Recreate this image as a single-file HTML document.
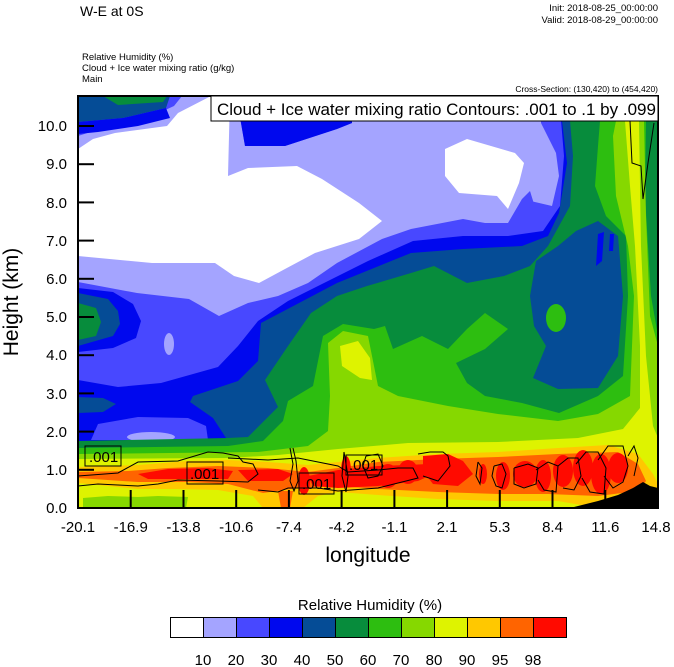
<!DOCTYPE html>
<html><head><meta charset="utf-8"><style>
html,body{margin:0;padding:0;background:#fff;}
svg{display:block;font-family:"Liberation Sans",Arial,sans-serif;}
</style></head><body>
<svg width="674" height="667" viewBox="0 0 674 667" xmlns="http://www.w3.org/2000/svg">
<rect width="674" height="667" fill="#fff"/>
<text x="80" y="16" font-size="14">W-E at 0S</text>
<text x="658" y="11" font-size="9.5" text-anchor="end">Init: 2018-08-25_00:00:00</text>
<text x="658" y="23" font-size="9.5" text-anchor="end">Valid: 2018-08-29_00:00:00</text>
<text x="82" y="60" font-size="9.5">Relative Humidity   (%)</text>
<text x="82" y="71" font-size="9.5">Cloud + Ice water mixing ratio   (g/kg)</text>
<text x="82" y="82" font-size="9.5">Main</text>
<text x="658" y="92" font-size="8.5" text-anchor="end">Cross-Section: (130,420) to (454,420)</text>
<defs><clipPath id="c"><rect x="0" y="0" width="580" height="412"/></clipPath></defs>
<g transform="translate(78,96)" clip-path="url(#c)">
<rect width="580" height="412" fill="#054c96"/>
<!-- blue 40 upper -->
<polygon fill="#0008ee" points="0,0 481,0 489,67 481,117 470,140 444,150 385,153 333,157 259,187 183,227 180,265 160,285 115,300 112,306 135,322 150,345 0,348"/>
<!-- medium blue 30 -->
<polygon fill="#4848ff" points="0,0 481,0 486,60 482,110 465,135 430,140 385,140 335,145 290,165 250,185 210,205 180,225 160,250 140,271 83,287 40,291 0,284"/>
<!-- left lobes -->
<polygon fill="#0008ee" points="0,192 35,196 55,208 63,225 58,242 35,252 0,256"/>
<polygon fill="#054c96" points="0,197 30,203 40,215 42,228 35,240 0,250"/>
<polygon fill="#078c3c" points="0,207 18,212 23,226 18,240 0,244"/>
<polygon fill="#054c96" points="0,301 25,302 38,308 25,316 0,317"/>
<polygon fill="#4848ff" points="13,344 20,328 60,321 110,322 128,330 130,344"/>
<!-- light blue 20 -->
<polygon fill="#a4a4ff" points="0,40 22,33 44,27 74,20 96,10 104,0 150,0 163,27 167,50 207,50 259,33 274,27 274,0 463,0 463,27 478,57 481,80 474,110 444,103 430,127 407,127 385,123 333,133 304,143 259,167 230,187 200,200 170,207 141,220 111,203 59,197 0,186"/>
<polygon fill="#0008ee" points="163,27 167,50 207,50 259,33 274,27 274,0 250,0 250,15 200,25 163,20"/>
<polygon fill="#4848ff" points="444,103 452,95 456,108 450,125 440,125"/>
<ellipse cx="91" cy="248" rx="5" ry="11" fill="#a4a4ff"/>
<ellipse cx="73" cy="341" rx="24" ry="5" fill="#a4a4ff"/>
<!-- top-left stripes -->
<polygon fill="#054c96" points="0,0 92,0 88,12 45,22 0,26"/>
<polygon fill="#078c3c" points="25,0 89,0 85,6 40,9"/>
<polygon fill="#0008ee" points="0,26 45,22 88,12 92,22 60,30 20,36 0,38"/>
<!-- white -->
<polygon fill="#fff" points="0,53 15,43 37,37 89,30 100,17 133,0 152,0 150,80 170,72 219,70 244,83 281,107 304,125 281,143 237,157 207,173 181,187 156,180 137,167 74,167 0,160"/>
<polygon fill="#fff" points="367,53 389,43 437,57 446,67 441,87 430,113 419,100 381,97 367,80"/>
<!-- green 60 -->
<polygon fill="#078c3c" points="0,345 150,342 170,341 200,311 187,284 210,250 233,217 259,200 289,190 333,177 356,170 389,187 426,180 452,170 470,150 492,110 495,60 492,25 520,25 580,25 580,412 0,412"/>
<!-- dark blue blob right -->
<polygon fill="#054c96" points="452,200 458,165 480,150 498,135 520,125 540,140 545,200 540,260 520,292 480,293 455,282 468,250 456,230"/>
<polygon fill="#0008ee" points="520,138 526,136 524,165 518,170"/>
<polygon fill="#0008ee" points="532,138 536,138 535,155 531,155"/>
<!-- light green 70 -->
<polygon fill="#2dbe10" points="0,352 150,350 185,345 205,325 210,305 235,290 245,240 265,228 296,233 307,230 315,253 344,240 370,253 389,233 407,217 430,233 407,253 378,267 389,287 407,300 444,307 481,317 520,300 545,280 550,200 548,140 528,120 517,90 520,50 522,25 580,25 580,412 0,412"/>
<ellipse cx="478" cy="222" rx="10" ry="14" fill="#2dbe10"/>
<polygon fill="#078c3c" points="568,25 580,25 580,240 573,200 567,100"/>
<!-- yellow-green 80 -->
<polygon fill="#86d800" points="0,358 180,356 230,350 250,335 252,300 250,247 265,235 290,240 300,290 320,300 370,310 420,318 480,325 520,318 552,300 556,200 550,150 538,100 535,40 538,25 566,25 568,120 572,220 580,250 580,412 0,412"/>
<!-- yellow 90 -->
<polygon fill="#def300" points="0,363 150,362 200,359 260,353 330,347 420,346 500,342 545,333 562,312 562,250 557,150 552,90 547,25 561,25 563,150 568,260 575,330 580,342 580,412 0,412"/>
<polygon fill="#def300" points="262,250 280,245 292,262 294,284 282,282 264,270"/>
<!-- orange 95 -->
<polygon fill="#ffc800" points="0,371 60,369 110,365 150,364 190,366 230,369 250,367 300,362 360,358 420,356 480,352 530,349 560,358 575,378 580,388 580,412 520,412 480,405 420,405 360,403 300,399 260,396 240,400 225,412 185,412 175,400 140,394 100,393 60,393 0,387"/>
<!-- red-orange 98 -->
<polygon fill="#ff6400" points="0,376 50,375 90,372 140,370 190,372 230,376 260,372 300,366 360,363 420,361 480,358 540,356 560,368 568,385 560,395 520,400 470,398 420,398 360,396 300,393 260,390 220,392 185,397 150,388 110,386 60,386 0,382"/>
<polygon fill="#ff6400" points="200,395 215,395 212,412 203,412"/>
<!-- red -->
<g fill="#ff0a00">
<polygon points="60,378 90,373 130,372 155,375 150,383 110,383 70,383"/>
<polygon points="160,374 200,373 215,378 205,385 170,385"/>
<polygon points="230,380 260,374 280,372 300,370 330,369 350,368 360,376 340,385 300,390 260,392 235,390"/>
<ellipse cx="226" cy="385" rx="6" ry="14"/>
<ellipse cx="268" cy="375" rx="5" ry="15"/>
<polygon points="345,360 370,358 385,365 395,378 380,390 355,388 345,375"/>
<ellipse cx="405" cy="378" rx="4" ry="10"/>
<ellipse cx="425" cy="380" rx="7" ry="14"/>
<ellipse cx="447" cy="378" rx="12" ry="13"/>
<ellipse cx="465" cy="380" rx="8" ry="16"/>
<ellipse cx="485" cy="375" rx="10" ry="16"/>
<ellipse cx="505" cy="372" rx="10" ry="18"/>
<ellipse cx="523" cy="378" rx="10" ry="20"/>
<ellipse cx="540" cy="372" rx="10" ry="15"/>
<ellipse cx="310" cy="380" rx="10" ry="12"/>
<ellipse cx="330" cy="376" rx="10" ry="12"/>
</g>
<polygon fill="#86d800" points="5,402 30,400 60,401 80,400 110,401 108,412 5,412"/>
<!-- terrain -->
<polygon fill="#000" points="492,412 520,405 540,399 555,392 565,386 572,390 580,392 580,412"/>
<!-- contours -->
<g fill="none" stroke="#000" stroke-width="1">
<polyline points="552,25 554,67 563,70 565,103 570,67 576,27"/>
<polyline points="0,380 40,377 60,366 100,365 130,356 145,357 160,360 165,366 175,368 180,378 170,386 140,385 100,384 80,388 60,390 20,388 0,390"/>
<polyline points="150,362 190,364 220,362 260,370 270,376 300,374 320,372 335,372 340,382 300,392 260,395 240,392 210,392 200,396 180,394"/>
<polyline points="212,352 215,368 212,385 216,395 220,385 218,365 215,352"/>
<polyline points="266,356 270,380 268,396 264,380 266,356"/>
<polyline points="288,360 300,358 305,370 300,380 290,382 285,370 288,360"/>
<polyline points="340,358 352,356 365,356 370,360 372,370 360,385 345,380"/>
<polyline points="400,366 404,372 402,388 398,380 400,366"/>
<polyline points="416,370 424,368 428,378 424,392 418,390 414,380 416,370"/>
<polyline points="436,372 450,368 460,372 458,388 446,392 436,388 436,372"/>
<polyline points="458,374 470,366 480,370 478,396 466,394 460,384"/>
<polyline points="480,370 490,362 500,362 503,380 496,394 485,392"/>
<polyline points="498,368 508,356 520,356 528,372 526,398 512,396 504,382"/>
<polyline points="520,364 530,350 545,350 550,370 545,386 535,392 526,380"/>
<polyline points="550,360 556,350 560,362 556,380"/>
</g>
<g stroke="#000" stroke-width="1" fill="none">
<rect x="7" y="350" width="36" height="20"/>
<rect x="109" y="366" width="36" height="22"/>
<rect x="221" y="377" width="35" height="21"/>
<rect x="268" y="359" width="36" height="20"/>
</g>
<g font-size="15" fill="#000">
<text x="11" y="366">.001</text>
<text x="112" y="383">.001</text>
<text x="224" y="393">.001</text>
<text x="271" y="374">.001</text>
</g>
<!-- ticks -->
<g stroke="#000" stroke-width="2">
<line x1="0" y1="373.8" x2="16" y2="373.8"/><line x1="0" y1="335.6" x2="16" y2="335.6"/><line x1="0" y1="297.4" x2="16" y2="297.4"/><line x1="0" y1="259.2" x2="16" y2="259.2"/><line x1="0" y1="221" x2="16" y2="221"/><line x1="0" y1="182.8" x2="16" y2="182.8"/><line x1="0" y1="144.6" x2="16" y2="144.6"/><line x1="0" y1="106.4" x2="16" y2="106.4"/><line x1="0" y1="68.2" x2="16" y2="68.2"/><line x1="0" y1="30" x2="16" y2="30"/>
<line x1="52.7" y1="412" x2="52.7" y2="394"/><line x1="105.5" y1="412" x2="105.5" y2="394"/><line x1="158.2" y1="412" x2="158.2" y2="394"/><line x1="210.9" y1="412" x2="210.9" y2="394"/><line x1="263.6" y1="412" x2="263.6" y2="394"/><line x1="316.4" y1="412" x2="316.4" y2="394"/><line x1="369.1" y1="412" x2="369.1" y2="394"/><line x1="421.8" y1="412" x2="421.8" y2="394"/><line x1="474.5" y1="412" x2="474.5" y2="394"/><line x1="527.3" y1="412" x2="527.3" y2="394"/>
</g>
</g>
<rect x="78" y="96" width="580" height="412" fill="none" stroke="#000" stroke-width="2"/>
<rect x="211" y="96" width="447" height="25" fill="#fff" stroke="#000" stroke-width="1"/>
<text x="217" y="115" font-size="17">Cloud + Ice water mixing ratio Contours: .001 to .1 by .099</text>
<g font-size="15" text-anchor="end">
<text x="67" y="513">0.0</text><text x="67" y="475">1.0</text><text x="67" y="437">2.0</text><text x="67" y="399">3.0</text><text x="67" y="360">4.0</text><text x="67" y="322">5.0</text><text x="67" y="284">6.0</text><text x="67" y="246">7.0</text><text x="67" y="208">8.0</text><text x="67" y="169">9.0</text><text x="67" y="131">10.0</text>
</g>
<g font-size="15" text-anchor="middle">
<text x="78" y="532">-20.1</text><text x="130.7" y="532">-16.9</text><text x="183.5" y="532">-13.8</text><text x="236.2" y="532">-10.6</text><text x="288.9" y="532">-7.4</text><text x="341.6" y="532">-4.2</text><text x="394.4" y="532">-1.1</text><text x="447.1" y="532">2.1</text><text x="499.8" y="532">5.3</text><text x="552.5" y="532">8.4</text><text x="605.3" y="532">11.6</text><text x="656" y="532">14.8</text>
</g>
<text x="368" y="562" font-size="21" text-anchor="middle">longitude</text>
<text transform="translate(18,302) rotate(-90)" font-size="21" text-anchor="middle">Height (km)</text>
<text x="370" y="610" font-size="15" text-anchor="middle">Relative Humidity  (%)</text>
<g stroke="#000" stroke-width="1">
<rect x="170.5" y="617.5" width="33" height="20" fill="#fff"/>
<rect x="203.5" y="617.5" width="33" height="20" fill="#a4a4ff"/>
<rect x="236.5" y="617.5" width="33" height="20" fill="#4848ff"/>
<rect x="269.5" y="617.5" width="33" height="20" fill="#0008ee"/>
<rect x="302.5" y="617.5" width="33" height="20" fill="#054c96"/>
<rect x="335.5" y="617.5" width="33" height="20" fill="#078c3c"/>
<rect x="368.5" y="617.5" width="33" height="20" fill="#2dbe10"/>
<rect x="401.5" y="617.5" width="33" height="20" fill="#86d800"/>
<rect x="434.5" y="617.5" width="33" height="20" fill="#def300"/>
<rect x="467.5" y="617.5" width="33" height="20" fill="#ffc800"/>
<rect x="500.5" y="617.5" width="33" height="20" fill="#ff6400"/>
<rect x="533.5" y="617.5" width="33" height="20" fill="#ff0a00"/>
</g>
<g font-size="15" text-anchor="middle">
<text x="203" y="665">10</text><text x="236" y="665">20</text><text x="269" y="665">30</text><text x="302" y="665">40</text><text x="335" y="665">50</text><text x="368" y="665">60</text><text x="401" y="665">70</text><text x="434" y="665">80</text><text x="467" y="665">90</text><text x="500" y="665">95</text><text x="533" y="665">98</text>
</g>
</svg>
</body></html>
